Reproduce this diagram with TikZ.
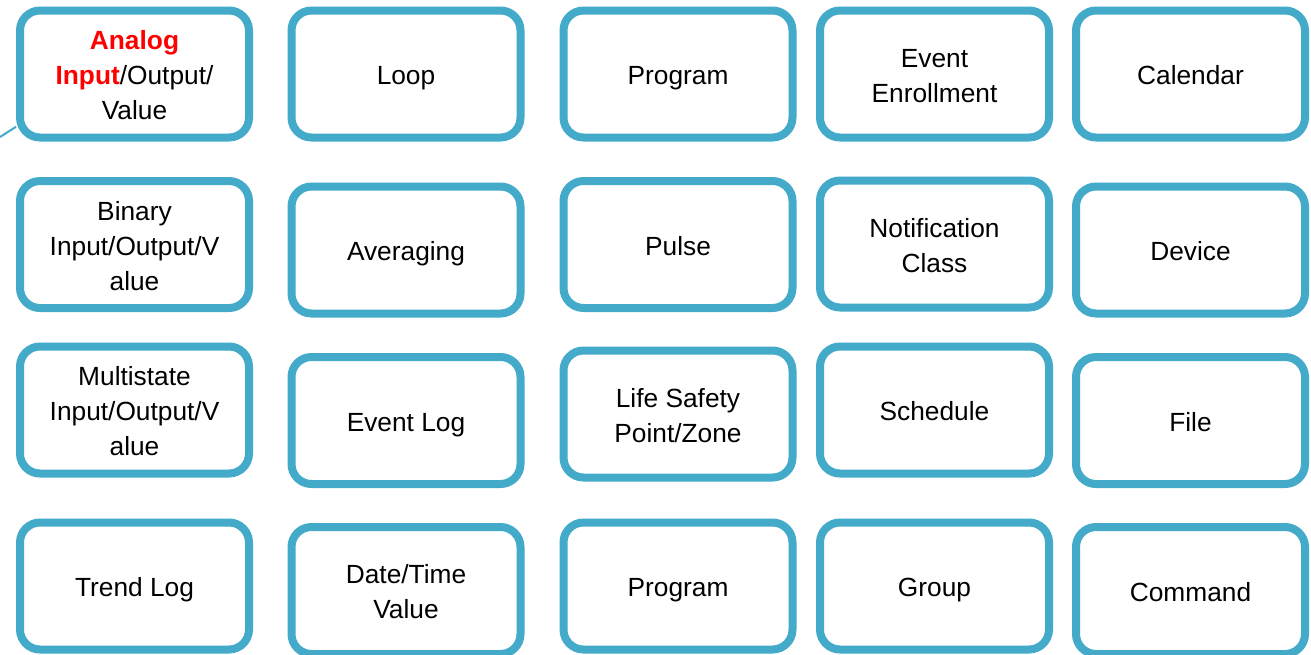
\documentclass[tikz,border=0pt]{standalone}
\usepackage{fontspec}
\setmainfont{Liberation Sans}
\definecolor{boxblue}{RGB}{67,170,202}
\definecolor{hotred}{RGB}{255,0,0}
\begin{document}
\begin{tikzpicture}[x=1pt,y=-1pt,
  objbox/.style={draw=boxblue, line width=8pt, rounded corners=20pt, fill=white,
    minimum width=229pt, minimum height=127pt, inner sep=0pt},
  txt/.style={align=center, inner sep=0pt, yshift=-3.7pt,
    font=\fontsize{26.3}{35}\selectfont, text=black,
    execute at begin node=\strut, execute at end node=\strut},
  txtm/.style={txt, yshift=-3pt},
  tail/.style={draw=boxblue, line width=2pt}]
\useasboundingbox (0,0) rectangle (1311,654);
% row 1
\node[objbox, label={[txtm]center:\textbf{\color{hotred}Analog}\\\textbf{\color{hotred}Input}/Output/\\Value}] (ai) at (134.5,74) {};
\node[objbox, label={[txt]center:Loop}] (loop) at (406,74) {};
\node[objbox, label={[txt]center:Program}] (prog1) at (678,74) {};
\node[objbox, label={[txtm]center:Event\\Enrollment}] (ee) at (934.5,74) {};
\node[objbox, label={[txt]center:Calendar}] (cal) at (1190.5,74) {};
% row 2
\node[objbox, label={[txtm]center:Binary\\Input/Output/V\\alue}] (bi) at (134.5,244.5) {};
\node[objbox, label={[txt]center:Averaging}] (avg) at (406,250) {};
\node[objbox, label={[txt]center:Pulse}] (pulse) at (678,244.5) {};
\node[objbox, label={[txtm]center:Notification\\Class}] (nc) at (934.5,244) {};
\node[objbox, label={[txt]center:Device}] (dev) at (1190.5,250) {};
% row 3
\node[objbox, label={[txtm]center:Multistate\\Input/Output/V\\alue}] (mi) at (134.5,410) {};
\node[objbox, label={[txt]center:Event Log}] (elog) at (406,420.5) {};
\node[objbox, label={[txtm]center:Life Safety\\Point/Zone}] (ls) at (678,414) {};
\node[objbox, label={[txt]center:Schedule}] (sch) at (934.5,410) {};
\node[objbox, label={[txt]center:File}] (file) at (1190.5,420.5) {};
% row 4
\node[objbox, label={[txt]center:Trend Log}] (tl) at (134.5,586) {};
\node[objbox, label={[txtm]center:Date/Time\\Value}] (dt) at (406,590.5) {};
\node[objbox, label={[txt]center:Program}] (prog2) at (678,586) {};
\node[objbox, label={[txt]center:Group}] (grp) at (934.5,586) {};
\node[objbox, label={[txt]center:Command}] (cmd) at (1190.5,590.5) {};
% tail line
\coordinate (tailend) at (0,137);
\draw[tail] (tailend) -- (ai.204);
\end{tikzpicture}
\end{document}
